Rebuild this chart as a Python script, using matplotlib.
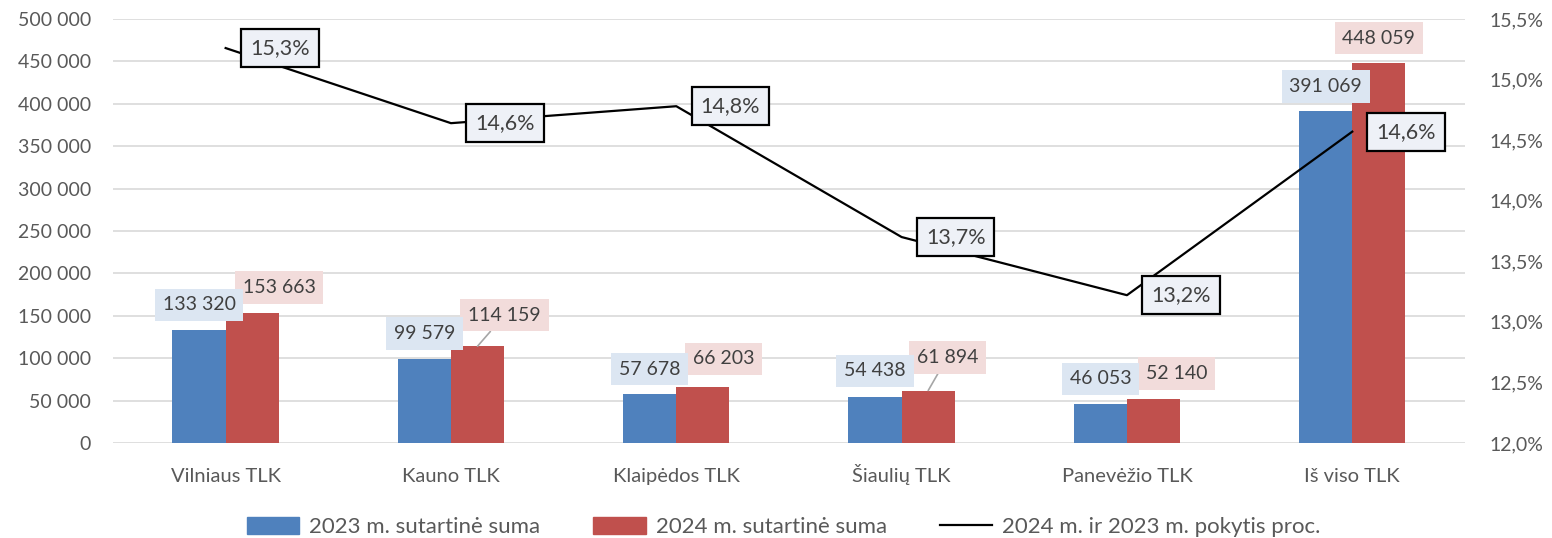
import matplotlib.pyplot as plt
from matplotlib.patches import Patch
from matplotlib.lines import Line2D
from matplotlib.ticker import FixedLocator

plt.rcParams['font.family'] = ['Lato', 'DejaVu Sans']

# Data
categories = ['Vilniaus TLK', 'Kauno TLK', 'Klaipėdos TLK', 'Šiaulių TLK', 'Panevėžio TLK', 'Iš viso TLK']
sum_2023 = [133320, 99579, 57678, 54438, 46053, 391069]
sum_2024 = [153663, 114159, 66203, 61894, 52140, 448059]
change_pct = [15.26, 14.64, 14.78, 13.70, 13.22, 14.57]

# label offsets in pixels (dx, dy) from the top of each bar
blue_off = [(0, 25), (0, 25), (0, 25), (0, 26), (0, 25), (0, 25)]
red_off = [(27, 25), (27, 31), (21, 28), (19, 33), (23, 25), (0, 25)]
leader = [False, True, False, True, False, False]

blue = '#4f81bd'
red = '#c0504d'
txt = '#404040'
tick_col = '#595959'

fig = plt.figure(figsize=(15.52, 5.38), dpi=100)
ax = fig.add_axes([0.0728, 0.1766, 0.8711, 0.7881])
ax2 = ax.twinx()

x = list(range(len(categories)))
w = 0.236
xb = [i - w / 2 for i in x]
xr = [i + w / 2 for i in x]
ax.bar(xb, sum_2023, width=w, color=blue, zorder=2)
ax.bar(xr, sum_2024, width=w, color=red, zorder=2)

ax.set_xlim(-0.5, len(categories) - 0.5)
ax.set_ylim(0, 500000)
ax.set_yticks(range(0, 500001, 50000))
ax.set_yticklabels([f'{v:,}'.replace(',', ' ') for v in range(0, 500001, 50000)])
ax.set_xticks(x)
ax.set_xticklabels(categories, va='baseline')
ax.grid(axis='y', color='#d9d9d9', linewidth=1.2, zorder=0)
ax.set_axisbelow(True)
ax.tick_params(axis='y', length=0, pad=16, labelsize=14, labelcolor=tick_col)
ax.tick_params(axis='x', length=0, pad=28, labelsize=14.5, labelcolor=tick_col)
for s in ax.spines.values():
    s.set_visible(False)

# bar value labels
for i in x:
    ap = dict(arrowstyle='-', color='#a6a6a6', lw=1.2, shrinkA=0, shrinkB=0) if leader[i] else None
    ax.annotate(f'{sum_2024[i]:,}'.replace(',', ' '), xy=(xr[i], sum_2024[i]),
                xytext=red_off[i], textcoords='offset pixels', ha='center', va='center',
                fontsize=14, color=txt, zorder=4, arrowprops=ap,
                bbox=dict(boxstyle='square,pad=0.4', fc='#f2dcdb', ec='none'))
    ax.annotate(f'{sum_2023[i]:,}'.replace(',', ' '), xy=(xb[i], sum_2023[i]),
                xytext=blue_off[i], textcoords='offset pixels', ha='center', va='center',
                fontsize=14, color=txt, zorder=4.5,
                bbox=dict(boxstyle='square,pad=0.4', fc='#dce6f2', ec='none'))

# change line on the secondary axis
ax2.plot(x, change_pct, color='black', linewidth=1.6, zorder=3)
ax2.set_ylim(12, 15.5)
pct_ticks = [12.0, 12.5, 13.0, 13.5, 14.0, 14.5, 15.0, 15.5]
ax2.yaxis.set_major_locator(FixedLocator(pct_ticks))
ax2.set_yticklabels([f'{v:.1f}%'.replace('.', ',') for v in pct_ticks])
ax2.tick_params(axis='y', length=0, pad=18, labelsize=14, labelcolor=tick_col)
for s in ax2.spines.values():
    s.set_visible(False)
for i in x:
    ax2.annotate(f'{change_pct[i]:.1f}%'.replace('.', ','), xy=(i, change_pct[i]),
                 xytext=(54, 0), textcoords='offset pixels', ha='center', va='center',
                 fontsize=15.5, color=txt, zorder=5,
                 bbox=dict(boxstyle='square,pad=0.42', fc='#eef1f7', ec='black', lw=1.6))

handles = [Patch(color=blue), Patch(color=red), Line2D([0], [0], color='black', lw=1.6)]
labels = ['2023 m. sutartinė suma', '2024 m. sutartinė suma', '2024 m. ir 2023 m. pokytis proc.']
leg = fig.legend(handles, labels, loc='center', bbox_to_anchor=(0.505, 0.02), ncol=3,
                 frameon=False, fontsize=16, handlelength=2.35, handleheight=0.75,
                 handletextpad=0.45, columnspacing=2.4)
for t in leg.get_texts():
    t.set_color(tick_col)

fig.savefig('out.png', dpi=100)
